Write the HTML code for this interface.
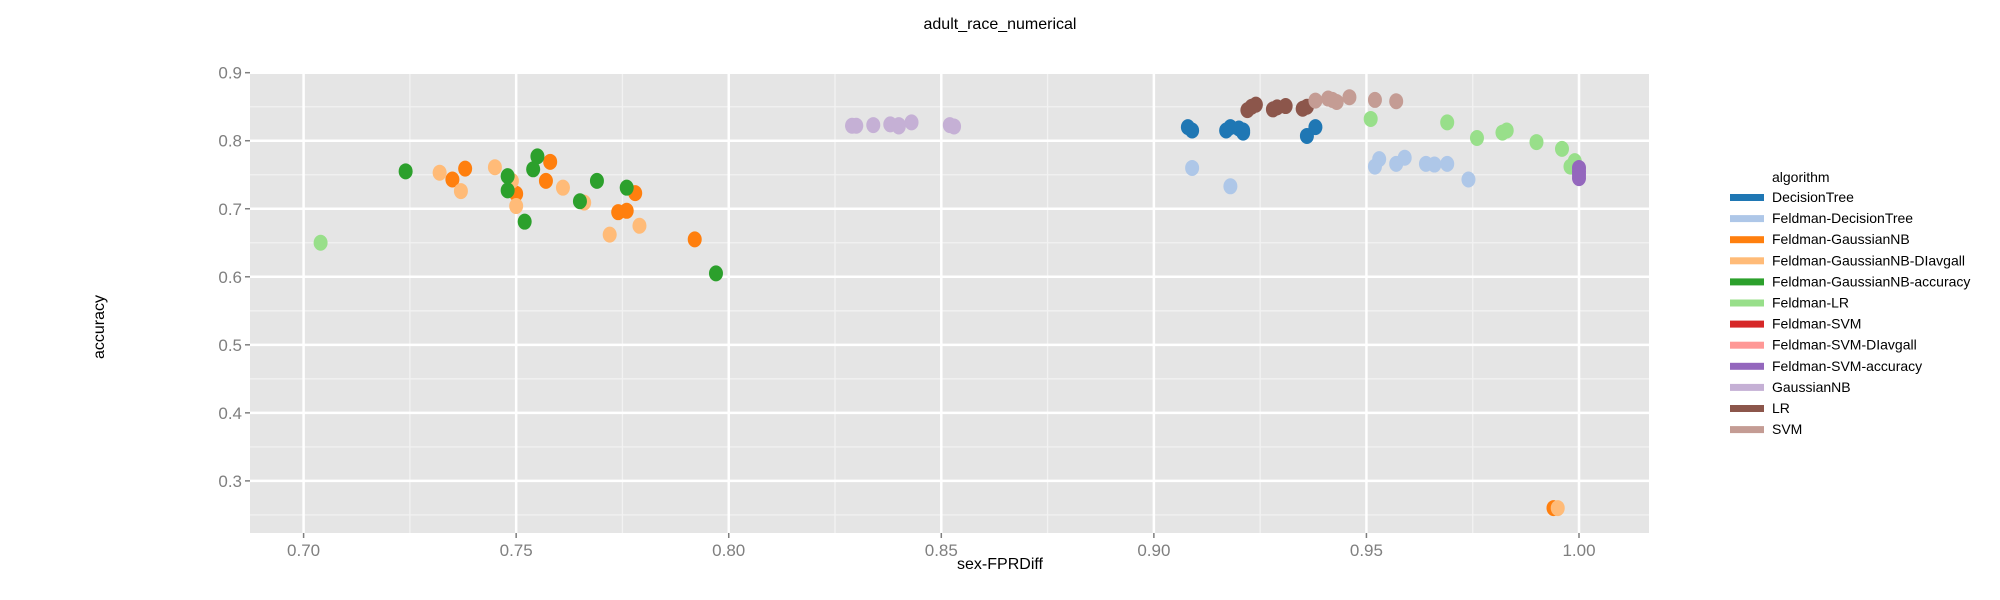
<!DOCTYPE html>
<html><head><meta charset="utf-8"><style>
html,body{margin:0;padding:0;background:#fff;}
svg{display:block;font-family:"Liberation Sans",sans-serif;}
</style></head><body>
<svg id="chart" width="2000" height="600">
<text x="1000" y="29" text-anchor="middle" font-size="16" fill="#000">adult_race_numerical</text>
<text x="1000" y="569" text-anchor="middle" font-size="16" fill="#000">sex-FPRDiff</text>
<text x="104" y="327" text-anchor="middle" font-size="16" fill="#000" transform="rotate(-90 104 327)">accuracy</text>
<g id="plot"></g>
<g id="legend"></g>
</svg>
<script>
const seriesNames = ["DecisionTree","Feldman-DecisionTree","Feldman-GaussianNB","Feldman-GaussianNB-DIavgall","Feldman-GaussianNB-accuracy","Feldman-LR","Feldman-SVM","Feldman-SVM-DIavgall","Feldman-SVM-accuracy","GaussianNB","LR","SVM"];
const seriesColors = ["#1f77b4","#aec7e8","#ff7f0e","#ffbb78","#2ca02c","#98df8a","#d62728","#ff9896","#9467bd","#c5b0d5","#8c564b","#c49c94"];
const xTicks = [0.70,0.75,0.80,0.85,0.90,0.95,1.00];
const yTicks = [0.3,0.4,0.5,0.6,0.7,0.8,0.9];
const dtX = [0.908,0.909,0.917,0.918,0.920,0.921,0.921,0.936,0.938];
const dtY = [0.820,0.815,0.815,0.820,0.818,0.812,0.815,0.807,0.820];
const fdtX = [0.909,0.918,0.952,0.953,0.957,0.959,0.964,0.966,0.969,0.974];
const fdtY = [0.760,0.733,0.762,0.773,0.766,0.775,0.766,0.765,0.766,0.743];
const fgnbX = [0.735,0.738,0.750,0.757,0.758,0.774,0.776,0.778,0.792];
const fgnbY = [0.743,0.759,0.722,0.741,0.769,0.695,0.697,0.723,0.655];
const fgnbdX = [0.732,0.737,0.745,0.749,0.750,0.761,0.766,0.772,0.779,0.995];
const fgnbdY = [0.753,0.726,0.761,0.741,0.704,0.731,0.709,0.662,0.675,0.260];
const fgnbaX = [0.724,0.748,0.748,0.752,0.754,0.755,0.765,0.769,0.776,0.797];
const fgnbaY = [0.755,0.748,0.727,0.681,0.758,0.777,0.711,0.741,0.731,0.605];
const flrX = [0.704,0.951,0.969,0.976,0.982,0.983,0.990,0.996,0.999,0.998];
const flrY = [0.650,0.832,0.827,0.804,0.812,0.815,0.798,0.788,0.770,0.762];
const fsvmX = [];
const fsvmY = [];
const fsvmdX = [];
const fsvmdY = [];
const fsvmaX = [1.0,1.0,1.0,1.0];
const fsvmaY = [0.760,0.755,0.750,0.745];
const gnbX = [0.829,0.830,0.834,0.838,0.840,0.840,0.843,0.852,0.853];
const gnbY = [0.822,0.822,0.823,0.824,0.823,0.821,0.827,0.823,0.821];
const lrX = [0.922,0.923,0.924,0.928,0.929,0.931,0.935,0.936];
const lrY = [0.845,0.850,0.853,0.846,0.849,0.851,0.847,0.850];
const svmX = [0.938,0.941,0.942,0.943,0.946,0.952,0.957];
const svmY = [0.859,0.862,0.860,0.857,0.864,0.860,0.858];
const extraOrangeX = [0.994];
const extraOrangeY = [0.260];

const allX = [dtX,fdtX,fgnbX.concat(extraOrangeX),fgnbdX,fgnbaX,flrX,fsvmX,fsvmdX,fsvmaX,gnbX,lrX,svmX];
const allY = [dtY,fdtY,fgnbY.concat(extraOrangeY),fgnbdY,fgnbaY,flrY,fsvmY,fsvmdY,fsvmaY,gnbY,lrY,svmY];

const NS="http://www.w3.org/2000/svg";
const L=250,R=1649,T=72,B=533;
const sx=v=>303.6+(v-0.70)*(1579-303.6)/0.30;
const sy=v=>72.7+(0.9-v)*680.3;
const plot=document.getElementById('plot');
function mk(tag,attrs,parent){const e=document.createElementNS(NS,tag);for(const k in attrs)e.setAttribute(k,attrs[k]);parent.appendChild(e);return e;}
const bg=mk('rect',{x:L,y:T,width:R-L,height:B-T,fill:'#e5e5e5'},plot);


// minor grid
for(let i=0;i<xTicks.length-1;i++){const v=(xTicks[i]+xTicks[i+1])/2;mk('line',{x1:sx(v),x2:sx(v),y1:T,y2:B,stroke:'#f2f2f2','stroke-width':1.3},plot);}
for(let i=0;i<yTicks.length-1;i++){const v=(yTicks[i]+yTicks[i+1])/2;mk('line',{x1:L,x2:R,y1:sy(v),y2:sy(v),stroke:'#f2f2f2','stroke-width':1.3},plot);}
mk('line',{x1:L,x2:R,y1:sy(0.25),y2:sy(0.25),stroke:'#f2f2f2','stroke-width':1.3},plot);
xTicks.forEach(v=>{
  mk('line',{x1:sx(v),x2:sx(v),y1:T,y2:B,stroke:'#fff','stroke-width':2.5},plot);
  mk('line',{x1:sx(v),x2:sx(v),y1:B,y2:B+5,stroke:'#7f7f7f','stroke-width':1.5},plot);
  const t=mk('text',{x:sx(v),y:B+23,'text-anchor':'middle','font-size':17,fill:'#7f7f7f'},plot);
  t.textContent=v.toFixed(2);
  
  
});
yTicks.forEach(v=>{
  mk('line',{x1:L,x2:R,y1:sy(v),y2:sy(v),stroke:'#fff','stroke-width':2.5},plot);
  mk('line',{x1:L-5,x2:L,y1:sy(v),y2:sy(v),stroke:'#7f7f7f','stroke-width':1.5},plot);
  const t=mk('text',{x:L-8,y:sy(v)+6,'text-anchor':'end','font-size':17,fill:'#7f7f7f'},plot);
  t.textContent=v.toFixed(1);
  
  
});
allX.forEach((xs,si)=>{
  xs.forEach((x,i)=>{
    const c=mk('ellipse',{cx:sx(x),cy:sy(allY[si][i]),rx:7,ry:8,fill:seriesColors[si]},plot);
    
    
  });
});
const lg=document.getElementById('legend');
const lt=mk('text',{x:1772,y:182,'font-size':14,fill:'#000'},lg);
lt.textContent='algorithm';


seriesNames.forEach((n,i)=>{
  const y=197+i*21.1;
  const r=mk('rect',{x:1730,y:y-3,width:34,height:7,fill:seriesColors[i]},lg);
  
  
  const t=mk('text',{x:1772,y:y+5,'font-size':14,fill:'#000'},lg);
  t.textContent=n;
  
  
});
</script>
</body></html>
